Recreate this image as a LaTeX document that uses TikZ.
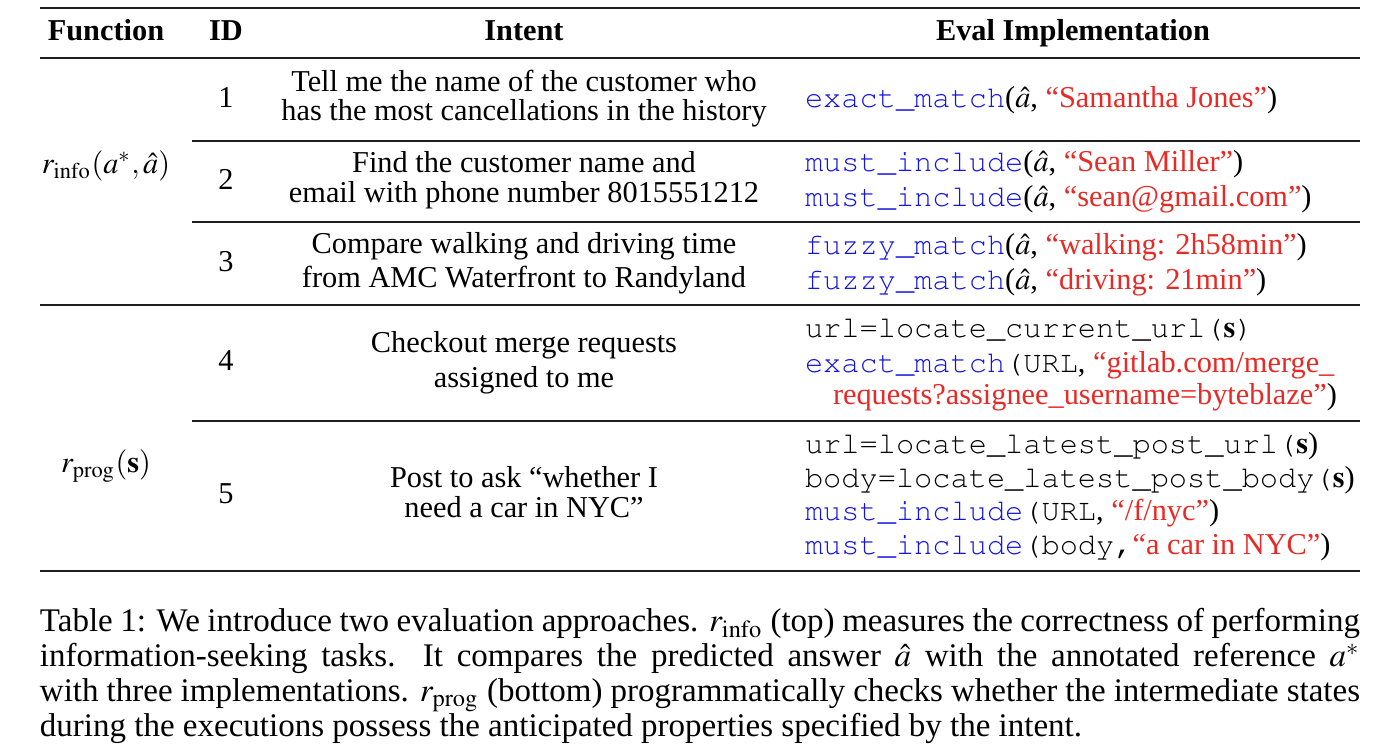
\documentclass[tikz,border=0pt]{standalone}
\usepackage{mathptmx}
\usepackage{fontspec}
\setmainfont{Liberation Serif}
\setmonofont{Liberation Mono}
\usepackage{xcolor}
\definecolor{fnblue}{RGB}{20,20,225}
\definecolor{strred}{RGB}{232,42,38}
\definecolor{rulegray}{RGB}{30,30,30}
\newcommand{\sz}{\fontsize{9.1pt}{10.5pt}\selectfont}
\newcommand{\capsz}{\fontsize{9.9pt}{11pt}\selectfont}
\newcommand{\cour}[1]{{\fontencoding{T1}\fontfamily{pcr}\selectfont #1}}
\newcommand{\evfn}[1]{\textcolor{fnblue}{\cour{#1}}}
\newcommand{\evstr}[1]{\textcolor{strred}{“#1”}}
\tikzset{
  cell/.style={anchor=base, inner sep=0pt, outer sep=0pt, font=\sz},
  evl/.style={anchor=base west, inner sep=0pt, outer sep=0pt, font=\sz},
  capl/.style={anchor=base west, inner sep=0pt, outer sep=0pt, font=\capsz},
  heavyrule/.style={draw=rulegray, line width=0.75pt},
  headrule/.style={draw=rulegray, line width=0.55pt},
  lightrule/.style={draw=rulegray, line width=0.4pt},
}
\begin{document}
\begin{tikzpicture}[x=0.3pt,y=-0.3pt]
\useasboundingbox (0,0) rectangle (1380,748);
% rules
\coordinate (r0l) at (40,8);    \coordinate (r0r) at (1360,8);
\coordinate (r1l) at (40,58);   \coordinate (r1r) at (1360,58);
\coordinate (r2l) at (192,141); \coordinate (r2r) at (1360,141);
\coordinate (r3l) at (192,222); \coordinate (r3r) at (1360,222);
\coordinate (r4l) at (40,305);  \coordinate (r4r) at (1360,305);
\coordinate (r5l) at (192,421); \coordinate (r5r) at (1360,421);
\coordinate (r6l) at (40,571);  \coordinate (r6r) at (1360,571);
\draw[heavyrule] (r0l) -- (r0r);
\draw[headrule] (r1l) -- (r1r);
\draw[lightrule] (r2l) -- (r2r);
\draw[lightrule] (r3l) -- (r3r);
\draw[headrule] (r4l) -- (r4r);
\draw[lightrule] (r5l) -- (r5r);
\draw[heavyrule] (r6l) -- (r6r);
% header
\node[cell] (hfun) at (106,41) {\bfseries Function};
\node[cell] (hid) at (226,41) {\bfseries ID};
\node[cell] (hint) at (524,41) {\bfseries Intent};
\node[cell] (heval) at (1073,41) {\bfseries Eval Implementation};
% function column
\node[cell] (finfo) at (106,174) {$r_{\mathrm{info}}(a^{*}, \hat{a})$};
\node[cell] (fprog) at (106,473) {$r_{\mathrm{prog}}(\mathbf{s})$};
% IDs
\node[cell] (id1) at (226,108) {1};
\node[cell] (id2) at (226,190) {2};
\node[cell] (id3) at (226,272) {3};
\node[cell] (id4) at (226,371) {4};
\node[cell] (id5) at (226,504) {5};
% intents
\node[cell] (i1a) at (524,92) {Tell me the name of the customer who};
\node[cell] (i1b) at (524,121) {has the most cancellations in the history};
\node[cell] (i2a) at (524,173) {Find the customer name and};
\node[cell] (i2b) at (524,203) {email with phone number 8015551212};
\node[cell] (i3a) at (524,254) {Compare walking and driving time};
\node[cell] (i3b) at (524,288) {from AMC Waterfront to Randyland};
\node[cell] (i4a) at (524,353) {Checkout merge requests};
\node[cell] (i4b) at (524,388) {assigned to me};
\node[cell] (i5a) at (524,488) {Post to ask “whether I};
\node[cell] (i5b) at (524,518) {need a car in NYC”};
% eval implementations
\node[evl] (e1) at (805,108) {\evfn{exact\_match}($\hat{a}$, \evstr{Samantha Jones})};
\node[evl] (e2a) at (805,172) {\evfn{must\_include}($\hat{a}$, \evstr{Sean Miller})};
\node[evl] (e2b) at (805,207) {\evfn{must\_include}($\hat{a}$, \evstr{sean@gmail.com})};
\node[evl] (e3a) at (805,255) {\evfn{fuzzy\_match}($\hat{a}$, \evstr{walking: 2h58min})};
\node[evl] (e3b) at (805,290) {\evfn{fuzzy\_match}($\hat{a}$, \evstr{driving: 21min})};
\node[evl] (e4a) at (805,338) {\cour{url=locate\_current\_url(}$\mathbf{s}$\cour{)}};
\node[evl] (e4b) at (805,373) {\evfn{exact\_match}\cour{(URL}, \textcolor{strred}{“gitlab.com/merge\_}};
\node[evl] (e4c) at (833,405) {\textcolor{strred}{requests?assignee\_username=byteblaze”})};
\node[evl] (e5a) at (805,454) {\cour{url=locate\_latest\_post\_url(}$\mathbf{s}$)};
\node[evl] (e5b) at (805,488) {\cour{body=locate\_latest\_post\_body(}$\mathbf{s}$)};
\node[evl] (e5c) at (805,521) {\evfn{must\_include}\cour{(URL}, \evstr{/f/nyc})};
\node[evl] (e5d) at (805,555) {\evfn{must\_include}\cour{(body,}\evstr{a car in NYC})};
% caption
\node[capl] (c1) at (40,632) {\makebox[396pt][s]{Table 1: We introduce two evaluation approaches. $r_{\mathrm{info}}$ (top) measures the correctness of performing}};
\node[capl] (c2) at (40,667) {\makebox[396pt][s]{information-seeking tasks.\ \ It compares the predicted answer $\hat{a}$ with the annotated reference $a^{*}$}};
\node[capl] (c3) at (40,702) {\makebox[396pt][s]{with three implementations. $r_{\mathrm{prog}}$ (bottom) programmatically checks whether the intermediate states}};
\node[capl] (c4) at (40,737) {during the executions possess the anticipated properties specified by the intent.};
\end{tikzpicture}
\end{document}
